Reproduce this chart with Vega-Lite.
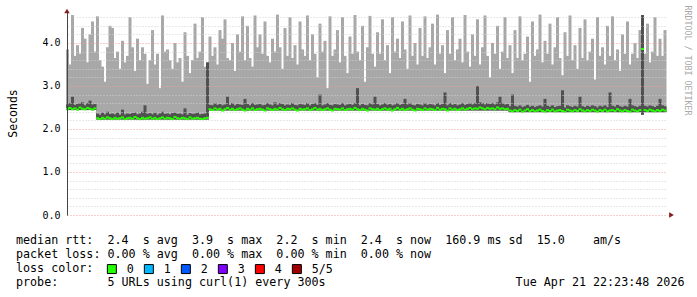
{
"$schema": "https://vega.github.io/schema/vega-lite/v6.json",
"width": 600, "height": 204,
"autosize": {"type": "none"},
"padding": {"left": 67, "top": 11, "right": 30, "bottom": 82},
"background": "white",
"config": {"view": {"stroke": null}, "font": "DejaVu Sans Mono"},
"title": {"text": ["median\u00a0rtt:\u00a0\u00a02.4\u00a0\u00a0s\u00a0avg\u00a0\u00a03.9\u00a0\u00a0s\u00a0max\u00a0\u00a02.2\u00a0\u00a0s\u00a0min\u00a0\u00a02.4\u00a0\u00a0s\u00a0now\u00a0\u00a0160.9\u00a0ms\u00a0sd\u00a0\u00a015.0\u00a0\u00a0\u00a0\u00a0am/s",
  "packet\u00a0loss:\u00a00.00\u00a0%\u00a0avg\u00a0\u00a00.00\u00a0%\u00a0max\u00a0\u00a00.00\u00a0%\u00a0min\u00a0\u00a00.00\u00a0%\u00a0now",
  "loss\u00a0color:",
  "probe:\u00a0\u00a0\u00a0\u00a0\u00a0\u00a0\u00a05\u00a0URLs\u00a0using\u00a0curl(1)\u00a0every\u00a0300s\u00a0\u00a0\u00a0\u00a0\u00a0\u00a0\u00a0\u00a0\u00a0\u00a0\u00a0\u00a0\u00a0\u00a0\u00a0\u00a0\u00a0\u00a0\u00a0\u00a0\u00a0\u00a0\u00a0\u00a0\u00a0\u00a0\u00a0Tue\u00a0Apr\u00a021\u00a022:23:48\u00a02026"],
 "orient": "bottom", "anchor": "start", "frame": "group", "baseline": "alphabetic", "font": "DejaVu Sans Mono", "fontSize": 11.7, "fontWeight": "normal", "color": "#000000", "lineHeight": 14, "offset": -32.5, "dx": -51, "limit": 0},
"data": {"values": [
{"t":-1,"h":3.85,"d":2.57,"m":2.47,"l":2.44},
{"t":0,"h":3.5,"d":2.6,"m":2.49,"l":2.44},
{"t":1,"h":4.65,"d":2.75,"m":2.46,"l":2.44},
{"t":2,"h":3.7,"d":2.56,"m":2.48,"l":2.44},
{"t":3,"h":3.95,"d":2.58,"m":2.45,"l":2.44},
{"t":4,"h":3.75,"d":2.6,"m":2.5,"l":2.44},
{"t":5,"h":4.35,"d":2.62,"m":2.47,"l":2.44},
{"t":6,"h":4.1,"d":2.55,"m":2.46,"l":2.44},
{"t":7,"h":3.55,"d":2.6,"m":2.49,"l":2.44},
{"t":8,"h":4.2,"d":2.66,"m":2.47,"l":2.44},
{"t":9,"h":4.5,"d":2.57,"m":2.45,"l":2.44},
{"t":10,"h":3.8,"d":2.58,"m":2.48,"l":2.44},
{"t":11,"h":4.62,"d":2.36,"m":2.25,"l":2.22},
{"t":12,"h":3.6,"d":2.33,"m":2.23,"l":2.22},
{"t":13,"h":3.45,"d":2.38,"m":2.26,"l":2.22},
{"t":14,"h":3.1,"d":2.34,"m":2.24,"l":2.22},
{"t":15,"h":3.9,"d":2.4,"m":2.27,"l":2.22},
{"t":16,"h":4.4,"d":2.35,"m":2.25,"l":2.22},
{"t":17,"h":4.35,"d":2.36,"m":2.23,"l":2.22},
{"t":18,"h":3.65,"d":2.34,"m":2.26,"l":2.22},
{"t":19,"h":3.8,"d":2.38,"m":2.24,"l":2.22},
{"t":20,"h":3.4,"d":2.33,"m":2.25,"l":2.22},
{"t":21,"h":4.05,"d":2.45,"m":2.27,"l":2.22},
{"t":22,"h":3.55,"d":2.34,"m":2.23,"l":2.22},
{"t":23,"h":3.7,"d":2.36,"m":2.25,"l":2.22},
{"t":24,"h":4.6,"d":2.35,"m":2.26,"l":2.22},
{"t":25,"h":3.9,"d":2.37,"m":2.24,"l":2.22},
{"t":26,"h":3.35,"d":2.38,"m":2.28,"l":2.22},
{"t":27,"h":4.1,"d":2.34,"m":2.25,"l":2.22},
{"t":28,"h":3.6,"d":2.36,"m":2.23,"l":2.22},
{"t":29,"h":3.9,"d":2.4,"m":2.26,"l":2.22},
{"t":30,"h":3.75,"d":2.55,"m":2.24,"l":2.22},
{"t":31,"h":3.05,"d":2.35,"m":2.25,"l":2.22},
{"t":32,"h":3.6,"d":2.37,"m":2.27,"l":2.22},
{"t":33,"h":4.3,"d":2.34,"m":2.24,"l":2.22},
{"t":34,"h":3.5,"d":2.38,"m":2.26,"l":2.22},
{"t":35,"h":3.75,"d":2.33,"m":2.23,"l":2.22},
{"t":36,"h":2.95,"d":2.36,"m":2.25,"l":2.22},
{"t":37,"h":4.64,"d":2.4,"m":2.27,"l":2.22},
{"t":38,"h":3.8,"d":2.35,"m":2.24,"l":2.22},
{"t":39,"h":3.85,"d":2.36,"m":2.26,"l":2.22},
{"t":40,"h":3.6,"d":2.34,"m":2.25,"l":2.22},
{"t":41,"h":3.4,"d":2.37,"m":2.23,"l":2.22},
{"t":42,"h":4.0,"d":2.38,"m":2.28,"l":2.22},
{"t":43,"h":3.55,"d":2.35,"m":2.25,"l":2.22},
{"t":44,"h":3.65,"d":2.36,"m":2.24,"l":2.22},
{"t":45,"h":3.1,"d":2.34,"m":2.26,"l":2.22},
{"t":46,"h":4.25,"d":2.48,"m":2.25,"l":2.22},
{"t":47,"h":3.7,"d":2.33,"m":2.23,"l":2.22},
{"t":48,"h":3.3,"d":2.37,"m":2.27,"l":2.22},
{"t":49,"h":3.6,"d":2.35,"m":2.24,"l":2.22},
{"t":50,"h":4.45,"d":2.36,"m":2.25,"l":2.22},
{"t":51,"h":3.65,"d":2.38,"m":2.26,"l":2.22},
{"t":52,"h":3.8,"d":2.34,"m":2.24,"l":2.22},
{"t":53,"h":4.6,"d":2.35,"m":2.23,"l":2.22},
{"t":54,"h":3.45,"d":2.36,"m":2.25,"l":2.22},
{"t":55,"h":3.55,"d":3.55,"m":2.26,"l":2.22},
{"t":56,"h":4.15,"d":2.56,"m":2.46,"l":2.43},
{"t":57,"h":3.7,"d":2.55,"m":2.44,"l":2.43},
{"t":58,"h":3.9,"d":2.6,"m":2.48,"l":2.43},
{"t":59,"h":3.5,"d":2.56,"m":2.45,"l":2.43},
{"t":60,"h":4.3,"d":2.58,"m":2.47,"l":2.43},
{"t":61,"h":4.1,"d":2.55,"m":2.43,"l":2.43},
{"t":62,"h":4.55,"d":2.57,"m":2.46,"l":2.43},
{"t":63,"h":3.65,"d":2.75,"m":2.49,"l":2.43},
{"t":64,"h":3.6,"d":2.56,"m":2.45,"l":2.43},
{"t":65,"h":4.0,"d":2.6,"m":2.47,"l":2.43},
{"t":66,"h":3.35,"d":2.55,"m":2.44,"l":2.43},
{"t":67,"h":4.2,"d":2.58,"m":2.46,"l":2.43},
{"t":68,"h":3.8,"d":2.57,"m":2.48,"l":2.43},
{"t":69,"h":4.62,"d":2.56,"m":2.45,"l":2.43},
{"t":70,"h":3.6,"d":2.7,"m":2.43,"l":2.43},
{"t":71,"h":4.4,"d":2.58,"m":2.47,"l":2.43},
{"t":72,"h":3.65,"d":2.55,"m":2.45,"l":2.43},
{"t":73,"h":3.45,"d":2.6,"m":2.48,"l":2.43},
{"t":74,"h":4.64,"d":2.56,"m":2.44,"l":2.43},
{"t":75,"h":3.9,"d":2.57,"m":2.46,"l":2.43},
{"t":76,"h":4.2,"d":2.58,"m":2.47,"l":2.43},
{"t":77,"h":3.75,"d":2.55,"m":2.45,"l":2.43},
{"t":78,"h":4.5,"d":2.56,"m":2.43,"l":2.43},
{"t":79,"h":3.7,"d":2.6,"m":2.48,"l":2.43},
{"t":80,"h":3.55,"d":2.57,"m":2.46,"l":2.43},
{"t":81,"h":4.1,"d":2.55,"m":2.44,"l":2.43},
{"t":82,"h":3.8,"d":2.62,"m":2.47,"l":2.43},
{"t":83,"h":4.66,"d":2.56,"m":2.45,"l":2.43},
{"t":84,"h":3.9,"d":2.6,"m":2.49,"l":2.43},
{"t":85,"h":3.4,"d":2.58,"m":2.46,"l":2.43},
{"t":86,"h":4.35,"d":2.55,"m":2.44,"l":2.43},
{"t":87,"h":3.7,"d":2.57,"m":2.47,"l":2.43},
{"t":88,"h":4.6,"d":2.56,"m":2.46,"l":2.43},
{"t":89,"h":3.65,"d":2.6,"m":2.48,"l":2.43},
{"t":90,"h":3.95,"d":2.56,"m":2.45,"l":2.43},
{"t":91,"h":3.5,"d":2.55,"m":2.43,"l":2.43},
{"t":92,"h":4.5,"d":2.58,"m":2.47,"l":2.43},
{"t":93,"h":3.85,"d":2.57,"m":2.45,"l":2.43},
{"t":94,"h":3.7,"d":2.56,"m":2.46,"l":2.43},
{"t":95,"h":4.64,"d":2.6,"m":2.48,"l":2.43},
{"t":96,"h":3.6,"d":2.55,"m":2.44,"l":2.43},
{"t":97,"h":4.2,"d":2.58,"m":2.46,"l":2.43},
{"t":98,"h":3.75,"d":2.6,"m":2.49,"l":2.43},
{"t":99,"h":3.2,"d":2.56,"m":2.45,"l":2.43},
{"t":100,"h":4.45,"d":2.8,"m":2.47,"l":2.43},
{"t":101,"h":3.8,"d":2.55,"m":2.44,"l":2.43},
{"t":102,"h":4.05,"d":2.57,"m":2.46,"l":2.43},
{"t":103,"h":2.95,"d":2.6,"m":2.48,"l":2.43},
{"t":104,"h":4.62,"d":2.56,"m":2.45,"l":2.43},
{"t":105,"h":3.7,"d":2.55,"m":2.43,"l":2.43},
{"t":106,"h":3.85,"d":2.58,"m":2.47,"l":2.43},
{"t":107,"h":4.3,"d":2.57,"m":2.46,"l":2.43},
{"t":108,"h":3.55,"d":2.56,"m":2.45,"l":2.43},
{"t":109,"h":4.6,"d":2.6,"m":2.48,"l":2.43},
{"t":110,"h":3.7,"d":2.55,"m":2.44,"l":2.43},
{"t":111,"h":3.3,"d":2.57,"m":2.46,"l":2.43},
{"t":112,"h":4.15,"d":2.58,"m":2.47,"l":2.43},
{"t":113,"h":3.75,"d":2.56,"m":2.45,"l":2.43},
{"t":114,"h":4.65,"d":2.6,"m":2.49,"l":2.43},
{"t":115,"h":3.8,"d":2.95,"m":2.46,"l":2.43},
{"t":116,"h":3.6,"d":2.55,"m":2.44,"l":2.43},
{"t":117,"h":4.4,"d":2.58,"m":2.47,"l":2.43},
{"t":118,"h":3.1,"d":2.56,"m":2.45,"l":2.43},
{"t":119,"h":3.9,"d":2.55,"m":2.43,"l":2.43},
{"t":120,"h":4.63,"d":2.6,"m":2.48,"l":2.43},
{"t":121,"h":3.75,"d":2.57,"m":2.46,"l":2.43},
{"t":122,"h":3.45,"d":2.75,"m":2.45,"l":2.43},
{"t":123,"h":4.25,"d":2.58,"m":2.47,"l":2.43},
{"t":124,"h":3.75,"d":2.55,"m":2.44,"l":2.43},
{"t":125,"h":4.55,"d":2.57,"m":2.46,"l":2.43},
{"t":126,"h":3.6,"d":2.6,"m":2.48,"l":2.43},
{"t":127,"h":3.95,"d":2.56,"m":2.45,"l":2.43},
{"t":128,"h":3.3,"d":2.58,"m":2.47,"l":2.43},
{"t":129,"h":4.6,"d":2.55,"m":2.43,"l":2.43},
{"t":130,"h":3.8,"d":2.57,"m":2.46,"l":2.43},
{"t":131,"h":4.1,"d":2.6,"m":2.49,"l":2.43},
{"t":132,"h":3.65,"d":2.56,"m":2.45,"l":2.43},
{"t":133,"h":4.5,"d":2.58,"m":2.47,"l":2.43},
{"t":134,"h":3.85,"d":2.7,"m":2.44,"l":2.43},
{"t":135,"h":3.4,"d":2.57,"m":2.46,"l":2.43},
{"t":136,"h":4.64,"d":2.6,"m":2.48,"l":2.43},
{"t":137,"h":3.7,"d":2.56,"m":2.45,"l":2.43},
{"t":138,"h":4.0,"d":2.55,"m":2.43,"l":2.43},
{"t":139,"h":3.5,"d":2.58,"m":2.47,"l":2.43},
{"t":140,"h":4.35,"d":2.57,"m":2.46,"l":2.43},
{"t":141,"h":3.7,"d":2.55,"m":2.44,"l":2.43},
{"t":142,"h":4.62,"d":2.6,"m":2.48,"l":2.43},
{"t":143,"h":3.65,"d":2.56,"m":2.45,"l":2.43},
{"t":144,"h":3.9,"d":2.58,"m":2.47,"l":2.43},
{"t":145,"h":4.45,"d":2.57,"m":2.46,"l":2.43},
{"t":146,"h":3.5,"d":2.55,"m":2.44,"l":2.43},
{"t":147,"h":4.66,"d":2.6,"m":2.49,"l":2.43},
{"t":148,"h":3.75,"d":2.56,"m":2.45,"l":2.43},
{"t":149,"h":3.95,"d":2.58,"m":2.47,"l":2.43},
{"t":150,"h":3.3,"d":2.85,"m":2.46,"l":2.43},
{"t":151,"h":4.3,"d":2.55,"m":2.43,"l":2.43},
{"t":152,"h":3.75,"d":2.6,"m":2.48,"l":2.43},
{"t":153,"h":4.6,"d":2.56,"m":2.45,"l":2.43},
{"t":154,"h":3.6,"d":2.58,"m":2.47,"l":2.43},
{"t":155,"h":3.85,"d":2.55,"m":2.44,"l":2.43},
{"t":156,"h":4.1,"d":2.57,"m":2.46,"l":2.43},
{"t":157,"h":3.55,"d":2.6,"m":2.48,"l":2.43},
{"t":158,"h":4.65,"d":2.56,"m":2.45,"l":2.43},
{"t":159,"h":3.8,"d":2.58,"m":2.47,"l":2.43},
{"t":160,"h":3.45,"d":2.6,"m":2.49,"l":2.43},
{"t":161,"h":4.2,"d":2.57,"m":2.46,"l":2.43},
{"t":162,"h":3.7,"d":2.6,"m":2.48,"l":2.43},
{"t":163,"h":4.55,"d":3.0,"m":2.47,"l":2.43},
{"t":164,"h":3.5,"d":2.62,"m":2.5,"l":2.43},
{"t":165,"h":3.9,"d":2.6,"m":2.48,"l":2.43},
{"t":166,"h":4.64,"d":2.57,"m":2.46,"l":2.43},
{"t":167,"h":3.7,"d":2.6,"m":2.49,"l":2.43},
{"t":168,"h":3.2,"d":2.58,"m":2.47,"l":2.43},
{"t":169,"h":4.0,"d":2.6,"m":2.48,"l":2.43},
{"t":170,"h":3.75,"d":2.57,"m":2.46,"l":2.43},
{"t":171,"h":4.4,"d":2.62,"m":2.5,"l":2.43},
{"t":172,"h":3.4,"d":2.75,"m":2.47,"l":2.43},
{"t":173,"h":3.8,"d":2.6,"m":2.48,"l":2.43},
{"t":174,"h":4.6,"d":2.57,"m":2.46,"l":2.43},
{"t":175,"h":3.65,"d":2.58,"m":2.47,"l":2.43},
{"t":176,"h":3.95,"d":2.53,"m":2.43,"l":2.39},
{"t":177,"h":3.3,"d":2.8,"m":2.41,"l":2.39},
{"t":178,"h":4.3,"d":2.54,"m":2.44,"l":2.39},
{"t":179,"h":3.65,"d":2.52,"m":2.42,"l":2.39},
{"t":180,"h":4.62,"d":2.55,"m":2.45,"l":2.39},
{"t":181,"h":3.6,"d":2.51,"m":2.4,"l":2.39},
{"t":182,"h":3.75,"d":2.53,"m":2.43,"l":2.39},
{"t":183,"h":4.15,"d":2.56,"m":2.46,"l":2.39},
{"t":184,"h":3.1,"d":2.52,"m":2.42,"l":2.39},
{"t":185,"h":4.5,"d":2.54,"m":2.44,"l":2.39},
{"t":186,"h":3.7,"d":2.51,"m":2.41,"l":2.39},
{"t":187,"h":3.85,"d":2.53,"m":2.43,"l":2.39},
{"t":188,"h":4.66,"d":2.55,"m":2.45,"l":2.39},
{"t":189,"h":3.55,"d":2.52,"m":2.42,"l":2.39},
{"t":190,"h":4.05,"d":2.7,"m":2.4,"l":2.39},
{"t":191,"h":3.75,"d":2.54,"m":2.44,"l":2.39},
{"t":192,"h":4.45,"d":2.52,"m":2.42,"l":2.39},
{"t":193,"h":3.5,"d":2.55,"m":2.45,"l":2.39},
{"t":194,"h":3.9,"d":2.51,"m":2.41,"l":2.39},
{"t":195,"h":4.6,"d":2.53,"m":2.43,"l":2.39},
{"t":196,"h":3.65,"d":2.54,"m":2.44,"l":2.39},
{"t":197,"h":3.25,"d":2.9,"m":2.42,"l":2.39},
{"t":198,"h":4.25,"d":2.5,"m":2.4,"l":2.39},
{"t":199,"h":3.7,"d":2.55,"m":2.45,"l":2.39},
{"t":200,"h":4.64,"d":2.53,"m":2.43,"l":2.39},
{"t":201,"h":3.6,"d":2.51,"m":2.41,"l":2.39},
{"t":202,"h":3.95,"d":2.54,"m":2.44,"l":2.39},
{"t":203,"h":3.4,"d":2.52,"m":2.42,"l":2.39},
{"t":204,"h":4.35,"d":2.75,"m":2.46,"l":2.39},
{"t":205,"h":3.65,"d":2.53,"m":2.43,"l":2.39},
{"t":206,"h":4.55,"d":2.51,"m":2.41,"l":2.39},
{"t":207,"h":3.6,"d":2.54,"m":2.44,"l":2.39},
{"t":208,"h":3.8,"d":2.52,"m":2.42,"l":2.39},
{"t":209,"h":4.1,"d":2.55,"m":2.45,"l":2.39},
{"t":210,"h":3.15,"d":2.53,"m":2.43,"l":2.39},
{"t":211,"h":4.6,"d":2.5,"m":2.4,"l":2.39},
{"t":212,"h":3.7,"d":2.54,"m":2.44,"l":2.39},
{"t":213,"h":3.9,"d":2.52,"m":2.42,"l":2.39},
{"t":214,"h":3.5,"d":2.55,"m":2.45,"l":2.39},
{"t":215,"h":4.4,"d":2.51,"m":2.41,"l":2.39},
{"t":216,"h":3.7,"d":2.85,"m":2.43,"l":2.39},
{"t":217,"h":4.62,"d":2.54,"m":2.44,"l":2.39},
{"t":218,"h":3.6,"d":2.52,"m":2.42,"l":2.39},
{"t":219,"h":3.85,"d":2.56,"m":2.46,"l":2.39},
{"t":220,"h":3.35,"d":2.53,"m":2.43,"l":2.39},
{"t":221,"h":4.2,"d":2.51,"m":2.41,"l":2.39},
{"t":222,"h":3.75,"d":2.54,"m":2.44,"l":2.39},
{"t":223,"h":4.5,"d":2.52,"m":2.42,"l":2.39},
{"t":224,"h":3.5,"d":2.7,"m":2.4,"l":2.39},
{"t":225,"h":3.75,"d":2.55,"m":2.45,"l":2.39},
{"t":226,"h":4.0,"d":2.53,"m":2.43,"l":2.39},
{"t":227,"h":3.65,"d":2.51,"m":2.41,"l":2.39},
{"t":228,"h":4.3,"d":2.54,"m":2.44,"l":2.39},
{"t":229,"h":4.65,"d":4.65,"m":3.86,"l":2.33},
{"t":230,"h":3.75,"d":2.54,"m":2.44,"l":2.39},
{"t":231,"h":4.45,"d":2.52,"m":2.42,"l":2.39},
{"t":232,"h":3.55,"d":2.55,"m":2.45,"l":2.39},
{"t":233,"h":3.8,"d":2.53,"m":2.43,"l":2.39},
{"t":234,"h":4.6,"d":2.51,"m":2.41,"l":2.39},
{"t":235,"h":3.7,"d":2.54,"m":2.44,"l":2.39},
{"t":236,"h":4.1,"d":2.7,"m":2.42,"l":2.39},
{"t":237,"h":3.7,"d":2.55,"m":2.45,"l":2.39},
{"t":238,"h":4.3,"d":2.53,"m":2.43,"l":2.39}
]},
"resolve": {"axis": {"y": "independent"}},
"layer": [
{
"mark": {"type": "rule", "strokeWidth": 3, "color": "#a8a8a8"},
"encoding": {
"x": {"field": "t", "type": "quantitative", "title": null,
 "scale": {"domain": [-1.2, 238.8], "nice": false, "zero": false},
 "axis": {"values": [0,6,12,18,24,30,36,42,48,54,60,66,72,78,84,90,96,102,108,114,120,126,132,138,144,150,156,162,168,174,180,186,192,198,204,210,216,222,228,234],
  "grid": true, "gridColor": {"condition": {"test": "datum.value % 24 === 0", "value": "#f09a9a"}, "value": "#d0d0d0"}, "gridDash": [1, 2], "gridWidth": 1,
  "ticks": false, "domainColor": "#000000", "domainWidth": 1,
  "labelExpr": "datum.value % 24 === 12 ? (12 + floor(datum.value / 24)) + ' Apr' : ''",
  "labelFont": "DejaVu Sans Mono", "labelFontSize": 10, "labelColor": "#000000", "labelPadding": 5, "labelFlush": false, "labelOverlap": false, "labelBound": false, "zindex": 1}},
"y": {"field": "h", "type": "quantitative", "title": "Seconds", "scale": {"domain": [0, 4.744], "nice": false, "zero": false},
 "axis": {"values": [0,0.2,0.4,0.6,0.8,1,1.2,1.4,1.6,1.8,2,2.2,2.4,2.6,2.8,3,3.2,3.4,3.6,3.8,4,4.2,4.4,4.6],
  "grid": true, "gridColor": {"condition": {"test": "abs(datum.value - round(datum.value)) < 0.001", "value": "#f09a9a"}, "value": "#d0d0d0"}, "gridDash": [1, 2], "gridWidth": 1,
  "ticks": false, "domainColor": "#444444", "domainWidth": 1,
  "labelExpr": "abs(datum.value - round(datum.value)) < 0.001 ? format(datum.value, '.1f') : ''",
  "labelFont": "DejaVu Sans Mono", "labelFontSize": 10, "labelColor": "#000000", "labelPadding": 7, "labelOverlap": false, "labelBound": false,
  "titleFont": "DejaVu Sans Mono", "titleFontSize": 11.5, "titleFontWeight": "normal", "titleColor": "#000000", "titlePadding": 23, "zindex": 1}},
"y2": {"field": "l"}
}
},
{
"mark": {"type": "rule", "strokeWidth": 3, "color": "#505050"},
"encoding": {
"x": {"field": "t", "type": "quantitative", "scale": {"domain": [-1.2, 238.8], "nice": false, "zero": false}, "axis": null},
"y": {"field": "d", "type": "quantitative", "scale": {"domain": [0, 4.744], "nice": false, "zero": false}, "axis": null},
"y2": {"field": "l"}
}
},
{
"mark": {"type": "tick", "orient": "horizontal", "size": 3, "thickness": 2, "opacity": 1},
"encoding": {
"x": {"field": "t", "type": "quantitative", "scale": {"domain": [-1.2, 238.8], "nice": false, "zero": false}, "axis": null},
"y": {"field": "m", "type": "quantitative", "scale": {"domain": [0, 4.744], "nice": false, "zero": false}, "axis": null},
"color": {"datum": "0", "type": "nominal",
 "scale": {"domain": ["0", "1", "2", "3", "4", "5/5"], "range": ["#26ff00", "#00b8ff", "#0059ff", "#7e00ff", "#ff0000", "#a10000"]},
 "legend": {"orient": "none", "legendX": 39, "legendY": 252, "direction": "horizontal", "title": null,
  "labelFont": "DejaVu Sans Mono", "labelFontSize": 11.7, "labelColor": "#000000", "labelOffset": 9,
  "symbolType": "square", "symbolSize": 81, "symbolStrokeColor": "#000000", "symbolStrokeWidth": 1, "symbolOpacity": 1,
  "columnPadding": 8, "padding": 0}}
}
},
{
"data": {"values": [{}]},
"mark": {"type": "point", "shape": "triangle-up", "size": 30, "filled": true, "color": "#8b1a1a", "opacity": 1},
"encoding": {
"x": {"datum": -1.2, "type": "quantitative", "scale": {"domain": [-1.2, 238.8], "nice": false, "zero": false}, "axis": null},
"y": {"datum": 4.744, "type": "quantitative", "scale": {"domain": [0, 4.744], "nice": false, "zero": false},
 "axis": {"orient": "right", "labels": false, "ticks": false, "domain": false, "grid": false, "title": "RRDTOOL / TOBI OETIKER",
  "titleAngle": 90, "titleX": 19, "titleY": -6, "titleAlign": "left", "titleBaseline": "middle", "titleColor": "#a8a8a8",
  "titleFont": "DejaVu Sans Mono", "titleFontSize": 8.3, "titleFontWeight": "normal"}}
}
},
{
"data": {"values": [{}]},
"mark": {"type": "point", "shape": "triangle-right", "size": 30, "filled": true, "color": "#8b1a1a", "opacity": 1},
"encoding": {
"x": {"datum": 240.6, "type": "quantitative", "scale": {"domain": [-1.2, 238.8], "nice": false, "zero": false}, "axis": null},
"y": {"datum": 0, "type": "quantitative", "scale": {"domain": [0, 4.744], "nice": false, "zero": false}, "axis": null}
}
}
]
}
